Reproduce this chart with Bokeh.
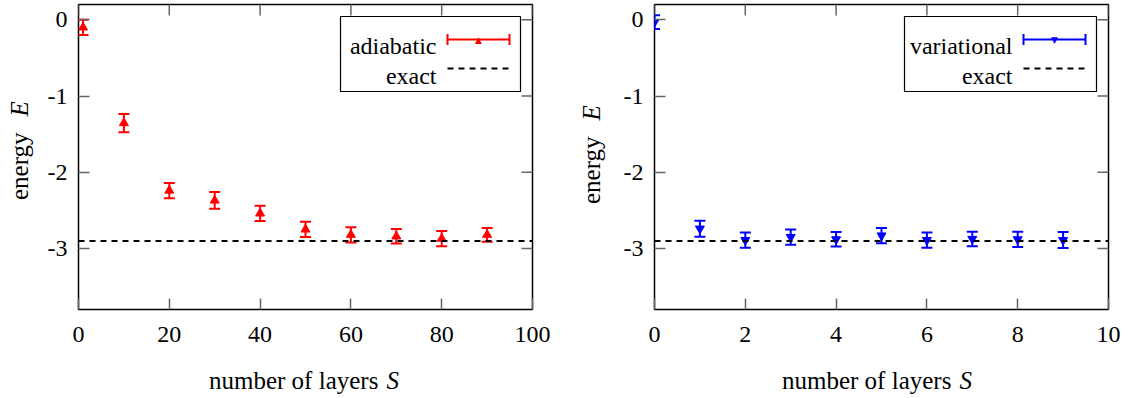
import math
from bokeh.plotting import figure
from bokeh.layouts import row, column
from bokeh.models import (ColumnDataSource, Whisker, TeeHead, FixedTicker,
                          Range1d, Label, BoxAnnotation, Arrow, Span, Div)
from bokeh.embed import file_html
from bokeh.resources import INLINE

# ---------------- data ----------------
ad_layers = [1, 10, 20, 30, 40, 50, 60, 70, 80, 90]
ad_energy = [-0.10, -1.355, -2.24, -2.37, -2.54, -2.75, -2.82, -2.84, -2.87, -2.82]
ad_err = [0.10, 0.12, 0.10, 0.11, 0.10, 0.10, 0.10, 0.095, 0.10, 0.09]

var_layers = [0, 1, 2, 3, 4, 5, 6, 7, 8, 9]
var_energy = [-0.03, -2.74, -2.89, -2.85, -2.88, -2.83, -2.89, -2.875, -2.88, -2.89]
var_err = [0.09, 0.105, 0.10, 0.10, 0.095, 0.10, 0.10, 0.095, 0.10, 0.105]

exact_energy = -2.9

left_xticks = [0, 20, 40, 60, 80, 100]
right_xticks = [0, 2, 4, 6, 8, 10]
yticks = [0, -1, -2, -3]
y_lo, y_hi = -3.8, 0.2

FONT = "Times New Roman"
FS = "24px"
FW, FH = 454, 305
MBT, MBB = 4, 46
FIG_H = MBT + FH + MBB
XLAB_H = 398 - FIG_H
TICK = "#666666"


def make_panel(xs, ys, errs, xmax, xticks, color, marker, name, box_left,
               mbl, mbr):
    p = figure(frame_width=FW, frame_height=FH, x_range=Range1d(0, xmax),
               y_range=Range1d(y_lo, y_hi), output_backend="svg",
               toolbar_location=None, min_border_left=mbl, min_border_right=mbr,
               min_border_top=MBT, min_border_bottom=MBB)
    p.xgrid.visible = False
    p.ygrid.visible = False
    p.outline_line_color = "black"
    p.outline_line_width = 1.5
    p.background_fill_color = "white"
    p.border_fill_color = "white"

    for ax in p.axis:
        ax.axis_line_color = None
        ax.major_tick_in = 11
        ax.major_tick_out = 0
        ax.minor_tick_line_color = None
        ax.major_tick_line_color = TICK
        ax.major_tick_line_width = 1.5
        ax.major_label_text_font = FONT
        ax.major_label_text_font_size = FS
        ax.major_label_text_color = "black"
    p.xaxis.ticker = FixedTicker(ticks=xticks)
    p.xaxis.major_label_overrides = {t: str(t) for t in xticks}
    p.yaxis.ticker = FixedTicker(ticks=yticks)
    p.yaxis.major_label_overrides = {t: str(t) for t in yticks}
    p.xaxis.major_label_standoff = 17
    p.yaxis.major_label_standoff = 11

    # mirrored ticks on top and right (dash half clipped by the frame)
    p.scatter(xticks, [y_hi] * len(xticks), marker="dash", size=22,
              angle=math.pi / 2, line_color=TICK, line_width=1.5)
    p.scatter([xmax] * len(yticks), yticks, marker="dash", size=22,
              line_color=TICK, line_width=1.5)

    # exact line
    p.add_layout(Span(location=exact_energy, dimension="width", line_color="black",
                      line_width=2, line_dash="6 5"))

    src = ColumnDataSource(dict(x=xs, y=ys,
                                lo=[y - e for y, e in zip(ys, errs)],
                                hi=[y + e for y, e in zip(ys, errs)]))
    p.add_layout(Whisker(source=src, base="x", lower="lo", upper="hi",
                         line_color=color, line_width=2,
                         lower_head=TeeHead(size=11, line_color=color, line_width=2),
                         upper_head=TeeHead(size=11, line_color=color, line_width=2)))
    p.scatter("x", "y", source=src, marker=marker, size=9, color=color)

    # legend (gnuplot style: text left, sample right)
    p.add_layout(BoxAnnotation(left=box_left, right=442, top=FH - 12, bottom=FH - 87,
                               left_units="screen", right_units="screen",
                               top_units="screen", bottom_units="screen",
                               fill_color="white", fill_alpha=1.0,
                               line_color="black", line_width=1.2, line_alpha=1.0))
    p.add_layout(Label(x=358, y=FH - 41, x_units="screen", y_units="screen",
                       text=name, text_font=FONT, text_font_size=FS,
                       text_color="black", text_align="right",
                       text_baseline="alphabetic"))
    p.add_layout(Label(x=358, y=FH - 71, x_units="screen", y_units="screen",
                       text="exact", text_font=FONT, text_font_size=FS,
                       text_color="black", text_align="right",
                       text_baseline="alphabetic"))
    p.add_layout(Arrow(x_start=369, y_start=FH - 35, x_end=431, y_end=FH - 35,
                       start_units="screen", end_units="screen",
                       line_color=color, line_width=2,
                       start=TeeHead(size=11, line_color=color, line_width=2),
                       end=TeeHead(size=11, line_color=color, line_width=2)))
    tri = "\u25B2" if marker == "triangle" else "\u25BC"
    p.add_layout(Label(x=400, y=FH - 35, x_units="screen", y_units="screen",
                       text=tri, text_font="DejaVu Sans", text_font_size="9px",
                       text_color=color, text_align="center", text_baseline="middle"))
    p.add_layout(Arrow(x_start=369, y_start=FH - 64, x_end=431, y_end=FH - 64,
                       start_units="screen", end_units="screen",
                       line_color="black", line_width=2, line_dash="6 5",
                       start=None, end=None))
    return p


def xlabel_div(width, pad_left):
    html = ('<div style="margin-top:14px; padding-left:%dpx; font-family:\'Liberation Serif\';'
            ' font-size:25px; line-height:24px; white-space:nowrap; color:black;">'
            'number of layers<i style="margin-left:8px">S</i></div>' % pad_left)
    return Div(text=html, width=width, height=XLAB_H, margin=0)


def ylabel_div(width, pad_top, pad_left):
    html = ('<div style="width:%dpx; height:%dpx; box-sizing:border-box;'
            ' transform-origin:0 0; transform:translateY(%dpx) rotate(-90deg);'
            ' padding-top:%dpx; padding-left:%dpx; font-family:\'Liberation Serif\';'
            ' font-size:25px; line-height:24px; white-space:nowrap; color:black;">'
            'energy<i style="margin-left:16px">E</i></div>'
            % (FIG_H, width, FIG_H, pad_top, pad_left))
    return Div(text=html, width=width, height=FIG_H, margin=0)


p1 = make_panel(ad_layers, ad_energy, ad_err, 100, left_xticks, "#ff0000",
                "triangle", "adiabatic", 262, 38, 20)
p2 = make_panel(var_layers, var_energy, var_err, 10, right_xticks, "#0000ff",
                "inverted_triangle", "variational", 250, 44, 20)

W1 = 38 + FW + 20
W2 = 44 + FW + 20
layout = row(ylabel_div(40, 8, 155), column(p1, xlabel_div(W1, 169)),
             ylabel_div(58, 28, 151), column(p2, xlabel_div(W2, 172)))
open("out.html", "w").write(file_html(layout, INLINE))
